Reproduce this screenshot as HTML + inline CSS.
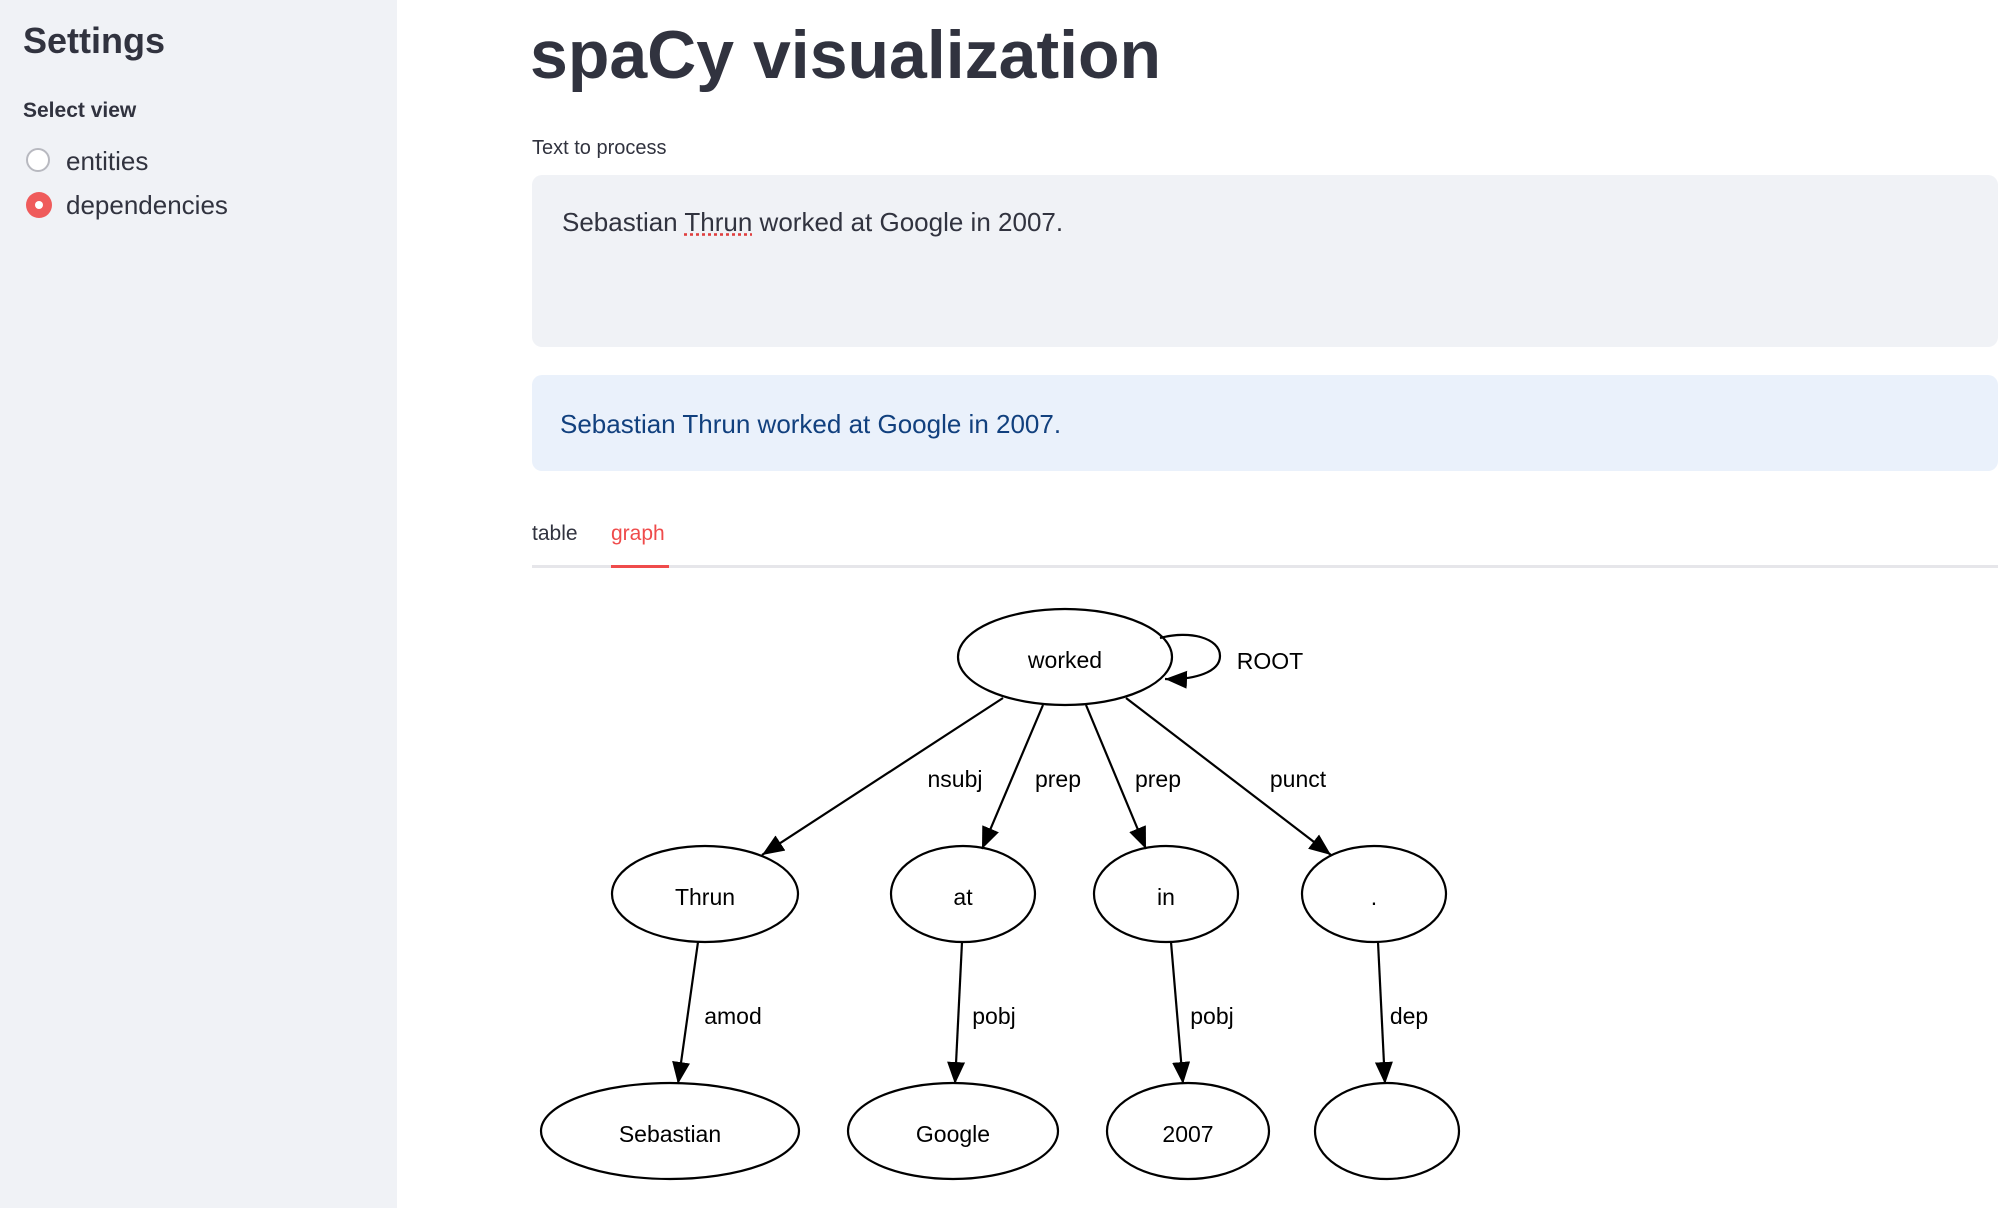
<!DOCTYPE html>
<html><head><meta charset="utf-8"><style>
body{margin:0;width:2016px;height:1208px;position:relative;overflow:hidden;background:#fff;font-family:"Liberation Sans",sans-serif;color:#31333f}
.sb{position:absolute;left:0;top:0;width:397px;height:1208px;background:#f0f2f6}
.a{position:absolute;white-space:nowrap}
</style></head><body>
<div class="sb"></div>
<div class="a" style="left:23px;top:20px;font-size:36px;font-weight:bold">Settings</div>
<div class="a" style="left:23px;top:99px;font-size:21px;font-weight:bold">Select view</div>
<div class="a" style="left:26px;top:148px;width:24px;height:24px;border:2px solid #b8b9c0;border-radius:50%;background:#fff;box-sizing:border-box"></div>
<div class="a" style="left:66px;top:146px;font-size:26px">entities</div>
<div class="a" style="left:26px;top:192px;width:26px;height:26px;border-radius:50%;background:#ef5b5b"></div>
<div class="a" style="left:35px;top:201px;width:8px;height:8px;border-radius:50%;background:#fff"></div>
<div class="a" style="left:66px;top:190px;font-size:26px">dependencies</div>

<div class="a" style="left:530px;top:16px;font-size:68px;font-weight:bold">spaCy visualization</div>
<div class="a" style="left:532px;top:137px;font-size:20px">Text to process</div>
<div class="a" style="left:532px;top:175px;width:1466px;height:172px;background:#f0f2f6;border-radius:10px"></div>
<div class="a" style="left:562px;top:207px;font-size:26px">Sebastian <span style="text-decoration:underline dotted #e04040">Thrun</span> worked at Google in 2007.</div>
<div class="a" style="left:532px;top:375px;width:1466px;height:96px;background:#eaf1fb;border-radius:10px"></div>
<div class="a" style="left:560px;top:409px;font-size:26px;color:#11407e">Sebastian Thrun worked at Google in 2007.</div>
<div class="a" style="left:532px;top:522px;font-size:21px">table</div>
<div class="a" style="left:611px;top:522px;font-size:21px;color:#ef4b4b">graph</div>
<div class="a" style="left:532px;top:565px;width:1466px;height:3px;background:#e6e6ea"></div>
<div class="a" style="left:611px;top:565px;width:58px;height:3px;background:#ef4b4b"></div>

<svg class="a" style="left:0;top:0" width="2016" height="1208" font-family="Liberation Sans,sans-serif" font-size="23" text-anchor="middle">
<defs><marker id="m" markerUnits="userSpaceOnUse" markerWidth="24" markerHeight="18" refX="22" refY="9" orient="auto"><path d="M0,0L22,9L0,18z" fill="#000"/></marker></defs>
<g fill="none" stroke="#000" stroke-width="2.2">
<ellipse cx="1065" cy="657" rx="107" ry="48"/>
<ellipse cx="705" cy="894" rx="93" ry="48"/>
<ellipse cx="963" cy="894" rx="72" ry="48"/>
<ellipse cx="1166" cy="894" rx="72" ry="48"/>
<ellipse cx="1374" cy="894" rx="72" ry="48"/>
<ellipse cx="670" cy="1131" rx="129" ry="48"/>
<ellipse cx="953" cy="1131" rx="105" ry="48"/>
<ellipse cx="1188" cy="1131" rx="81" ry="48"/>
<ellipse cx="1387" cy="1131" rx="72" ry="48"/>
<g marker-end="url(#m)">
<line x1="1003" y1="698" x2="762" y2="855"/>
<line x1="1043" y1="705" x2="982" y2="849"/>
<line x1="1086" y1="705" x2="1146" y2="849"/>
<line x1="1126" y1="698" x2="1331" y2="855"/>
<line x1="698" y1="942" x2="678" y2="1084"/>
<line x1="962" y1="942" x2="955" y2="1084"/>
<line x1="1171" y1="942" x2="1183" y2="1084"/>
<line x1="1378" y1="942" x2="1385" y2="1084"/>
<path d="M1160,638 C1190,630 1220,638 1220,656 C1220,672 1195,680 1165,679"/>
</g></g>
<g fill="#000">
<text x="1065" y="668">worked</text><text x="705" y="905">Thrun</text><text x="963" y="905">at</text>
<text x="1166" y="905">in</text><text x="1374" y="905">.</text><text x="670" y="1142">Sebastian</text>
<text x="953" y="1142">Google</text><text x="1188" y="1142">2007</text>
<text x="1270" y="669">ROOT</text><text x="955" y="787">nsubj</text><text x="1058" y="787">prep</text>
<text x="1158" y="787">prep</text><text x="1298" y="787">punct</text><text x="733" y="1024">amod</text>
<text x="994" y="1024">pobj</text><text x="1212" y="1024">pobj</text><text x="1409" y="1024">dep</text>
</g></svg>
</body></html>
